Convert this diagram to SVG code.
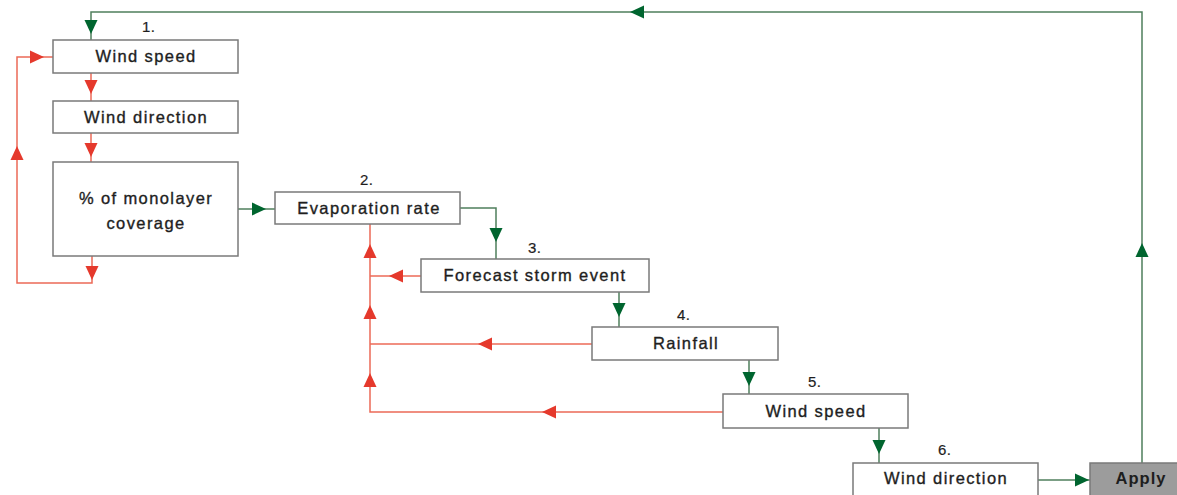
<svg xmlns="http://www.w3.org/2000/svg" xmlns:xlink="http://www.w3.org/1999/xlink" width="1177" height="495" viewBox="0 0 1177 495">
<style>
.box{fill:#ffffff;stroke:#7a7a7a;stroke-width:1.5}
.apply{fill:#9c9c9c;stroke:#7a7a7a;stroke-width:1.5}
.t{font-family:"Liberation Sans",Arial,sans-serif;font-size:16.5px;fill:#1e1e1e;stroke:#1e1e1e;stroke-width:0.35px;text-anchor:middle;letter-spacing:1.4px}
.tb{font-family:"Liberation Sans",Arial,sans-serif;font-size:16.5px;font-weight:bold;fill:#1e1e1e;text-anchor:middle;letter-spacing:1px}
.n{font-family:"Liberation Sans",Arial,sans-serif;font-size:15px;fill:#1e1e1e;stroke:#1e1e1e;stroke-width:0.2px;letter-spacing:0.5px}
.g{fill:none;stroke:#4f7f5c;stroke-width:1.5}
.r{fill:none;stroke:#ec6a57;stroke-width:1.5}
.gh{fill:#00652f}
.rh{fill:#e5392c}
</style>
<defs>
<path id="tri" d="M0,0 L-14,-6.5 L-14,6.5 Z"/>
</defs>
<rect width="1177" height="495" fill="#ffffff"/>
<g id="connectors">
<path class="g" d="M1142,463 V12 H91 V40"/>
<use xlink:href="#tri" class="gh" transform="translate(1142,243) rotate(-90)"/>
<use xlink:href="#tri" class="gh" transform="translate(630,12) rotate(180)"/>
<use xlink:href="#tri" class="gh" transform="translate(91,34) rotate(90)"/>
<path class="r" d="M91,73 V101"/>
<use xlink:href="#tri" class="rh" transform="translate(91,94) rotate(90)"/>
<path class="r" d="M91,133 V162"/>
<use xlink:href="#tri" class="rh" transform="translate(91,157) rotate(90)"/>
<path class="r" d="M92,256 V283 H17 V57 H53"/>
<use xlink:href="#tri" class="rh" transform="translate(92,280) rotate(90)"/>
<use xlink:href="#tri" class="rh" transform="translate(17,146) rotate(-90)"/>
<use xlink:href="#tri" class="rh" transform="translate(44,57)"/>
<path class="g" d="M238,209 H275"/>
<use xlink:href="#tri" class="gh" transform="translate(266,209)"/>
<path class="g" d="M460,208 H496 V259"/>
<use xlink:href="#tri" class="gh" transform="translate(496,242) rotate(90)"/>
<path class="g" d="M619,292 V327"/>
<use xlink:href="#tri" class="gh" transform="translate(619,317) rotate(90)"/>
<path class="g" d="M749,360 V394"/>
<use xlink:href="#tri" class="gh" transform="translate(749,386) rotate(90)"/>
<path class="g" d="M879,428 V463"/>
<use xlink:href="#tri" class="gh" transform="translate(879,454) rotate(90)"/>
<path class="g" d="M1038,480 H1090"/>
<use xlink:href="#tri" class="gh" transform="translate(1089,480)"/>
<path class="r" d="M370,224 V412 H723"/>
<path class="r" d="M421,276 H370"/>
<path class="r" d="M592,344 H370"/>
<use xlink:href="#tri" class="rh" transform="translate(370,244) rotate(-90)"/>
<use xlink:href="#tri" class="rh" transform="translate(370,305) rotate(-90)"/>
<use xlink:href="#tri" class="rh" transform="translate(370,373) rotate(-90)"/>
<use xlink:href="#tri" class="rh" transform="translate(389,276) rotate(180)"/>
<use xlink:href="#tri" class="rh" transform="translate(478,344) rotate(180)"/>
<use xlink:href="#tri" class="rh" transform="translate(542,412) rotate(180)"/>
</g>
<g id="node-wind-speed-1">
<rect class="box" x="53" y="40" width="185" height="33"/>
<text class="t" x="146" y="62">Wind speed</text>
<text class="n" x="142" y="32">1.</text>
</g>
<g id="node-wind-direction-1">
<rect class="box" x="53" y="101" width="185" height="32"/>
<text class="t" x="146" y="122.5">Wind direction</text>
</g>
<g id="node-monolayer">
<rect class="box" x="53" y="162" width="185" height="94"/>
<text class="t" x="146" y="203.5">% of monolayer</text>
<text class="t" x="146" y="229">coverage</text>
</g>
<g id="node-evaporation">
<rect class="box" x="275" y="192" width="185" height="32"/>
<text class="t" x="369" y="213.5">Evaporation rate</text>
<text class="n" x="360" y="185">2.</text>
</g>
<g id="node-forecast">
<rect class="box" x="421" y="259" width="228" height="33"/>
<text class="t" x="535" y="281">Forecast storm event</text>
<text class="n" x="528" y="253">3.</text>
</g>
<g id="node-rainfall">
<rect class="box" x="592" y="327" width="186" height="33"/>
<text class="t" x="686" y="349">Rainfall</text>
<text class="n" x="677" y="320">4.</text>
</g>
<g id="node-wind-speed-2">
<rect class="box" x="723" y="394" width="185" height="34"/>
<text class="t" x="816" y="416.5">Wind speed</text>
<text class="n" x="808" y="387">5.</text>
</g>
<g id="node-wind-direction-2">
<rect class="box" x="853" y="463" width="185" height="40"/>
<text class="t" x="946" y="484">Wind direction</text>
<text class="n" x="938" y="455">6.</text>
</g>
<g id="node-apply">
<rect class="apply" x="1090" y="463" width="95" height="40"/>
<text class="tb" x="1141" y="484">Apply</text>
</g>
</svg>
